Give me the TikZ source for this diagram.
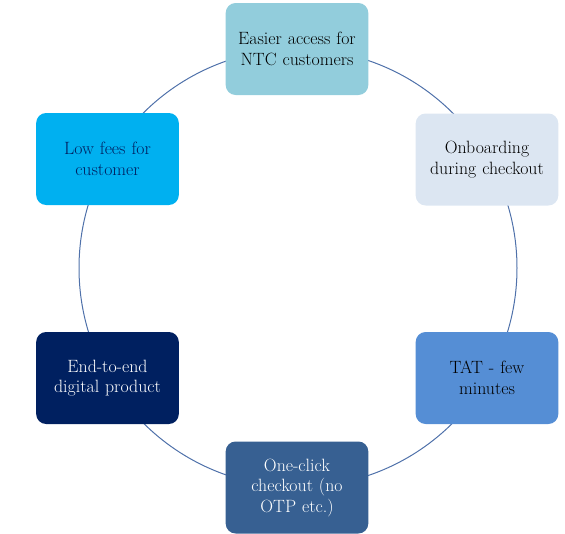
\documentclass[tikz,border=0pt]{standalone}
\usepackage{fontspec}
\definecolor{ringline}{RGB}{79,113,170}
\definecolor{accessfill}{RGB}{146,205,220}
\definecolor{onboardfill}{RGB}{220,230,242}
\definecolor{tatfill}{RGB}{85,142,213}
\definecolor{clickfill}{RGB}{55,96,146}
\definecolor{digitalfill}{RGB}{0,32,96}
\definecolor{feesfill}{RGB}{0,176,240}
\begin{document}
\begin{tikzpicture}[x=1pt, y=-1pt,
        stage/.style={rectangle, rounded corners=10pt, minimum width=142pt, minimum height=92pt,
            text width=136pt, align=center, font=\fontsize{17.8}{20.5}\selectfont}]
        \useasboundingbox (0,0) rectangle (565,533);
        \coordinate (hub) at (298,268);
        \draw [ringline, line width=1pt] (hub) circle [radius=219pt];
        \node [stage, fill=accessfill] (access) at (297,49) {Easier access for\\NTC customers};
        \node [stage, fill=onboardfill] (onboard) at (487,159.5) {Onboarding\\during checkout};
        \node [stage, fill=tatfill] (tat) at (487,378) {TAT - few\\minutes};
        \node [stage, fill=clickfill, text=white] (click) at (297,487.5) {One-click\\checkout (no\\OTP etc.)};
        \node [stage, fill=digitalfill, text=white] (digital) at (107.5,378) {End-to-end\\digital product};
        \node [stage, fill=feesfill, text=digitalfill] (fees) at (107.5,159) {Low fees for\\customer};
    \end{tikzpicture}
\end{document}
